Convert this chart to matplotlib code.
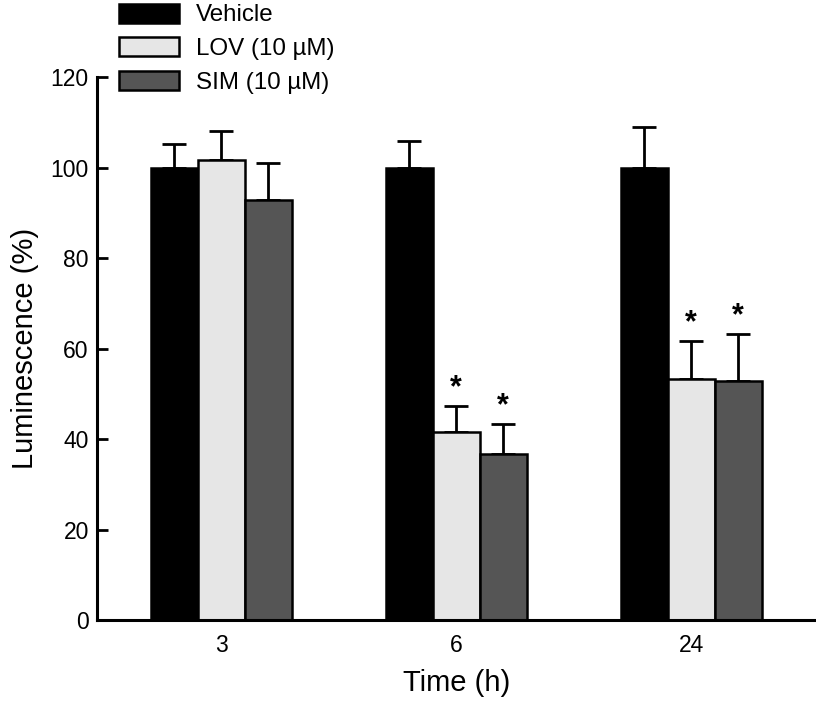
import matplotlib
matplotlib.use('Agg')
import matplotlib.pyplot as plt
import numpy as np

plt.rcParams['font.family'] = ['Liberation Sans', 'DejaVu Sans']

# data
times = ['3', '6', '24']
groups = ['Vehicle', 'LOV (10 \u00b5M)', 'SIM (10 \u00b5M)']
vehicle = [100.0, 100.0, 100.0]
vehicle_err = [5.2, 5.9, 9.0]
lov = [101.7, 41.5, 53.3]
lov_err = [6.3, 5.9, 8.4]
sim = [92.8, 36.6, 52.9]
sim_err = [8.3, 6.7, 10.3]
# significance marks (True -> star)
lov_sig = [False, True, True]
sim_sig = [False, True, True]

colors = ['#000000', '#e6e6e6', '#555555']


def create_plot():

    '''Grouped bars with upper error bars'''

    fig = plt.figure(figsize=(8.16, 7.01), dpi=100)
    ax = fig.add_axes([0.119, 0.1155, 0.88, 0.7745])

    x = np.arange(len(times))
    width = 0.2
    series = [(vehicle, vehicle_err, None), (lov, lov_err, lov_sig), (sim, sim_err, sim_sig)]

    for i, (vals, errs, sig) in enumerate(series):
        pos = x + (i - 1) * width
        ax.bar(pos, vals, width, color=colors[i], edgecolor='black', linewidth=1.8,
               label=groups[i], zorder=2)
        ax.errorbar(pos, vals, yerr=[np.zeros(len(vals)), errs], fmt='none',
                    ecolor='black', elinewidth=2, capsize=8.6, capthick=2, zorder=1)
        if sig is not None:
            for p, v, e, s in zip(pos, vals, errs, sig):
                if s:
                    ax.annotate('*', (p, v + e), xytext=(0, 2), textcoords='offset points',
                                ha='center', va='bottom', fontsize=22, fontweight='bold')

    # axes
    ax.set_xlim(-0.528, 2.528)
    ax.set_ylim(0, 120)
    ax.set_yticks(range(0, 121, 20))
    ax.set_xticks(x)
    ax.set_xticklabels(times)
    ax.tick_params(axis='y', direction='in', length=8, width=2, labelsize=16.5, pad=6)
    ax.tick_params(axis='x', length=0, labelsize=16.5, pad=10)
    for s in ['top', 'right']:
        ax.spines[s].set_visible(False)
    for s in ['left', 'bottom']:
        ax.spines[s].set_linewidth(2.2)

    ax.set_xlabel('Time (h)', fontsize=21, labelpad=9)
    ax.set_ylabel('Luminescence (%)', fontsize=21, labelpad=8)

    ax.legend(loc='upper left', bbox_to_anchor=(0.142, 1.0), bbox_transform=fig.transFigure,
              frameon=False, fontsize=17.4, handlelength=2.48, handleheight=0.83,
              labelspacing=0.45, handletextpad=0.7, borderaxespad=0.05, borderpad=0.1)

    fig.savefig('out.png', dpi=100)


def main():
    create_plot()


if __name__ == "__main__":
    main()
